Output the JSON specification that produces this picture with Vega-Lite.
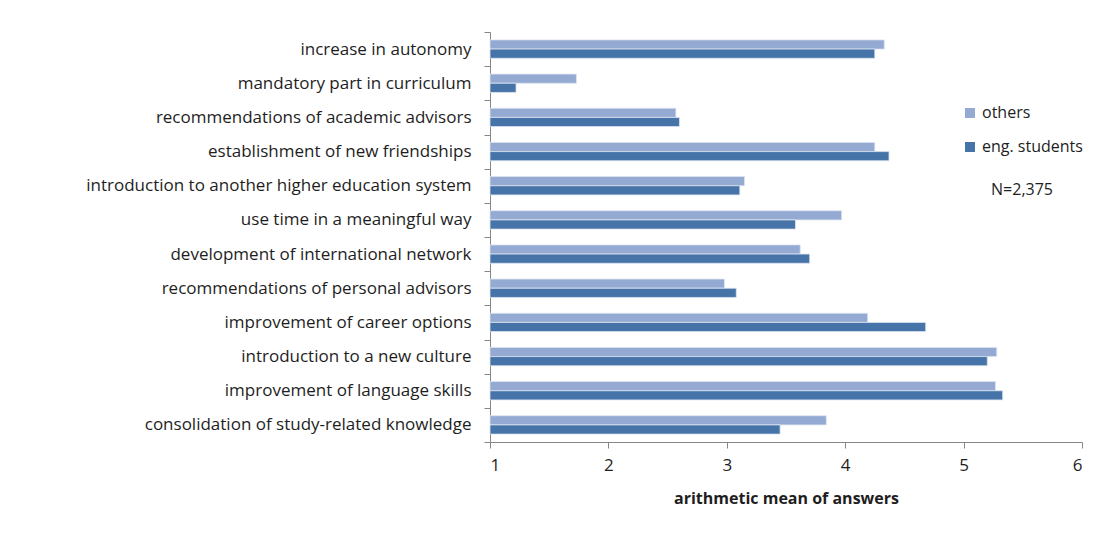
{
  "$schema": "https://vega.github.io/schema/vega-lite/v6.json",
  "autosize": "none",
  "width": 592,
  "height": 410,
  "padding": {"left": 490, "top": 32, "right": 38, "bottom": 118},
  "background": "white",
  "config": {
    "view": {"stroke": null},
    "font": "Open Sans"
  },
  "data": {
    "values": [
      {"item": "increase in autonomy", "group": "others", "mean": 4.33},
      {"item": "increase in autonomy", "group": "eng. students", "mean": 4.25},
      {"item": "mandatory part in curriculum", "group": "others", "mean": 1.73},
      {"item": "mandatory part in curriculum", "group": "eng. students", "mean": 1.22},
      {"item": "recommendations of academic advisors", "group": "others", "mean": 2.57},
      {"item": "recommendations of academic advisors", "group": "eng. students", "mean": 2.60},
      {"item": "establishment of new friendships", "group": "others", "mean": 4.25},
      {"item": "establishment of new friendships", "group": "eng. students", "mean": 4.37},
      {"item": "introduction to another higher education system", "group": "others", "mean": 3.15},
      {"item": "introduction to another higher education system", "group": "eng. students", "mean": 3.11},
      {"item": "use time in a meaningful way", "group": "others", "mean": 3.97},
      {"item": "use time in a meaningful way", "group": "eng. students", "mean": 3.58},
      {"item": "development of international network", "group": "others", "mean": 3.62},
      {"item": "development of international network", "group": "eng. students", "mean": 3.70},
      {"item": "recommendations of personal advisors", "group": "others", "mean": 2.98},
      {"item": "recommendations of personal advisors", "group": "eng. students", "mean": 3.08},
      {"item": "improvement of career options", "group": "others", "mean": 4.19},
      {"item": "improvement of career options", "group": "eng. students", "mean": 4.68},
      {"item": "introduction to a new culture", "group": "others", "mean": 5.28},
      {"item": "introduction to a new culture", "group": "eng. students", "mean": 5.20},
      {"item": "improvement of language skills", "group": "others", "mean": 5.27},
      {"item": "improvement of language skills", "group": "eng. students", "mean": 5.33},
      {"item": "consolidation of study-related knowledge", "group": "others", "mean": 3.84},
      {"item": "consolidation of study-related knowledge", "group": "eng. students", "mean": 3.45}
    ]
  },
  "mark": {"type": "bar", "stroke": "#dde4f0", "strokeWidth": 0.8},
  "encoding": {
    "y": {
      "field": "item",
      "type": "nominal",
      "sort": [
        "increase in autonomy",
        "mandatory part in curriculum",
        "recommendations of academic advisors",
        "establishment of new friendships",
        "introduction to another higher education system",
        "use time in a meaningful way",
        "development of international network",
        "recommendations of personal advisors",
        "improvement of career options",
        "introduction to a new culture",
        "improvement of language skills",
        "consolidation of study-related knowledge"
      ],
      "scale": {"paddingInner": 0, "paddingOuter": 0},
      "axis": {
        "title": null,
        "tickBand": "extent",
        "domainColor": "#868686",
        "tickColor": "#868686",
        "tickSize": 6,
        "labelPadding": 13,
        "labelFontSize": 17,
        "labelColor": "#1e1e1e",
        "labelLimit": 480
      }
    },
    "yOffset": {
      "field": "group",
      "type": "nominal",
      "sort": ["others", "eng. students"],
      "scale": {"paddingInner": 0, "paddingOuter": 0.86}
    },
    "x": {
      "field": "mean",
      "type": "quantitative",
      "scale": {"domain": [1, 6], "zero": false, "nice": false},
      "axis": {
        "title": "arithmetic mean of answers",
        "values": [1, 2, 3, 4, 5, 6],
        "grid": false,
        "domainColor": "#868686",
        "tickColor": "#868686",
        "tickSize": 6,
        "labelPadding": 9,
        "labelFontSize": 17,
        "labelColor": "#1e1e1e",
        "titleFontSize": 16,
        "titleFontWeight": "bold",
        "titleColor": "#1e1e1e",
        "titlePadding": 17
      }
    },
    "x2": {"datum": 1},
    "color": {
      "field": "group",
      "type": "nominal",
      "sort": ["others", "eng. students"],
      "scale": {"domain": ["others", "eng. students"], "range": ["#94aad2", "#4674a8"]},
      "legend": {
        "title": "N=2,375",
        "titleOrient": "bottom",
        "titleFontWeight": "normal",
        "titleFontSize": 16,
        "titleColor": "#1e1e1e",
        "titleAnchor": "middle",
        "titlePadding": 27,
        "orient": "none",
        "legendX": 472,
        "legendY": 73,
        "symbolType": "square",
        "symbolSize": 100,
        "symbolStrokeWidth": 0,
        "labelFontSize": 16,
        "labelColor": "#1e1e1e",
        "rowPadding": 18,
        "labelOffset": 4
      }
    }
  }
}
